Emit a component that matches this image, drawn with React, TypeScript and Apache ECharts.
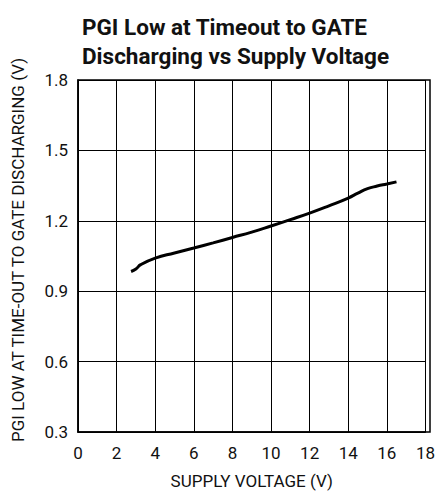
import React, { useEffect, useRef } from "react";
import * as echarts from "echarts";

const titleLines = ["PGI Low at Timeout to GATE", "Discharging vs Supply Voltage"];
const xAxisName = "SUPPLY VOLTAGE (V)";
const yAxisName = "PGI LOW AT TIME-OUT TO GATE DISCHARGING (V)";
const supplyVoltage = [2.75, 3.0, 3.25, 4, 5, 6, 7, 8, 9, 10, 11, 12, 13, 14, 14.5, 15, 15.5, 16, 16.5];
const pgiLow = [0.984, 0.995, 1.013, 1.041, 1.063, 1.084, 1.106, 1.129, 1.152, 1.178, 1.205, 1.233, 1.264, 1.297, 1.318, 1.337, 1.348, 1.357, 1.366];

const FONT = "Roboto, 'Liberation Sans', sans-serif";

export default function App() {
  const ref = useRef<HTMLDivElement>(null);
  useEffect(() => {
    if (!ref.current) return;
    const chart = echarts.init(ref.current, null, { renderer: "svg" });
    chart.setOption({
      animation: false,
      backgroundColor: "#ffffff",
      title: {
        text: titleLines.join("\n"),
        left: 77,
        top: 7,
        textStyle: { fontFamily: FONT, fontSize: 22.5, fontWeight: "bold", color: "#111", lineHeight: 29 },
      },
      grid: { left: 78, right: 8, top: 80, bottom: 62 },
      xAxis: {
        type: "value",
        min: 0,
        max: 18,
        interval: 2,
        name: xAxisName,
        nameLocation: "middle",
        nameGap: 40,
        nameTextStyle: { fontFamily: FONT, fontSize: 17, color: "#111" },
        axisLine: { show: true, lineStyle: { color: "#000", width: 1.5 } },
        axisTick: { show: false },
        axisLabel: { fontFamily: FONT, fontSize: 17, color: "#111", margin: 12 },
        splitLine: { show: true, lineStyle: { color: "#000", width: 1 } },
      },
      yAxis: {
        type: "value",
        min: 0.3,
        max: 1.8,
        interval: 0.3,
        name: yAxisName,
        nameLocation: "middle",
        nameGap: 52,
        nameTextStyle: { fontFamily: FONT, fontSize: 17, color: "#111", padding: [0, 0, 0, 12] },
        axisLine: { show: true, lineStyle: { color: "#000", width: 1.5 } },
        axisTick: { show: false },
        axisLabel: { fontFamily: FONT, fontSize: 17, color: "#111", margin: 10, formatter: (v: number) => v.toFixed(1) },
        splitLine: { show: true, lineStyle: { color: "#000", width: 1 } },
      },
      series: [
        {
          type: "line",
          data: supplyVoltage.map((x, i) => [x, pgiLow[i]]),
          smooth: true,
          showSymbol: false,
          lineStyle: { color: "#000", width: 3 },
        },
      ],
      graphic: [
        {
          type: "rect",
          shape: { x: 78, y: 80, width: 352, height: 352 },
          style: { fill: "none", stroke: "#000", lineWidth: 1.5 },
          silent: true,
        },
      ],
    });
    return () => chart.dispose();
  }, []);
  return <div ref={ref} style={{ position: "fixed", left: 0, top: 0, width: 438, height: 494 }} />;
}
